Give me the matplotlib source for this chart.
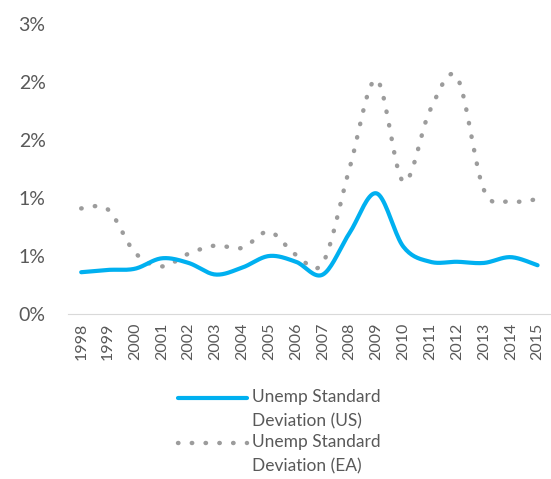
import math
import numpy as np
import matplotlib.pyplot as plt
from matplotlib.ticker import FuncFormatter
from matplotlib.legend_handler import HandlerLine2D

years = [str(y) for y in range(1998, 2016)]
us_sd = [0.36, 0.38, 0.39, 0.48, 0.44, 0.34, 0.40, 0.50, 0.45, 0.34,
         0.70, 1.04, 0.58, 0.45, 0.45, 0.44, 0.49, 0.42]
ea_sd = [0.91, 0.90, 0.53, 0.41, 0.52, 0.59, 0.57, 0.71, 0.51, 0.44,
         1.26, 2.02, 1.14, 1.76, 2.04, 1.07, 0.97, 0.99]


def smooth(xs, ys, n=20):
    # Excel-style smoothed line (Catmull-Rom through Bezier segments)
    xs = np.asarray(xs, float)
    ys = np.asarray(ys, float)
    px = np.concatenate([[xs[0]], xs, [xs[-1]]])
    py = np.concatenate([[ys[0]], ys, [ys[-1]]])
    outx, outy = [], []
    t = np.linspace(0, 1, n)
    for i in range(1, len(px) - 2):
        p0 = np.array([px[i - 1], py[i - 1]])
        p1 = np.array([px[i], py[i]])
        p2 = np.array([px[i + 1], py[i + 1]])
        p3 = np.array([px[i + 2], py[i + 2]])
        b1 = p1 + (p2 - p0) / 6
        b2 = p2 - (p3 - p1) / 6
        pts = ((1 - t) ** 3)[:, None] * p1 + (3 * (1 - t) ** 2 * t)[:, None] * b1 \
            + (3 * (1 - t) * t ** 2)[:, None] * b2 + (t ** 3)[:, None] * p2
        outx.extend(pts[:, 0])
        outy.extend(pts[:, 1])
    return np.array(outx), np.array(outy)


class TopLineHandler(HandlerLine2D):
    # put the legend line next to the first line of a two-line label
    def create_artists(self, legend, orig_handle, xdescent, ydescent,
                       width, height, fontsize, trans):
        return super().create_artists(legend, orig_handle, xdescent,
                                      ydescent - 1.35 * fontsize, width, height,
                                      fontsize, trans)


plt.rcParams['font.family'] = ['Lato', 'DejaVu Sans']
grey = '#595959'

fig = plt.figure(figsize=(5.51, 4.79), dpi=100)
ax = fig.add_axes([0.123, 0.3445, 0.877, 0.6055])

x = np.arange(len(years))
sx, sy = smooth(x, np.array(us_sd) / 100)
l1, = ax.plot(sx, sy, color='#00B0F0', lw=3, solid_capstyle='round',
              label='Unemp Standard\nDeviation (US)', zorder=3)
sx, sy = smooth(x, np.array(ea_sd) / 100)
l2, = ax.plot(sx, sy, color='#9C9C9C', lw=3.2, linestyle=(0, (0.1, 3.0)),
              dash_capstyle='round', label='Unemp Standard\nDeviation (EA)', zorder=2)

ax.set_xlim(-0.5, len(years) - 0.5)
ax.set_ylim(0, 0.025)
ax.set_yticks(np.arange(0, 0.0251, 0.005))
# Excel rounds half up: 0.5% -> 1%, 2.5% -> 3%
ax.yaxis.set_major_formatter(FuncFormatter(lambda v, p: f"{math.floor(v * 100 + 0.5 + 1e-9):d}%"))
ax.set_xticks(x)
ax.set_xticklabels(years, rotation=90)

for s in ['top', 'right', 'left']:
    ax.spines[s].set_visible(False)
ax.spines['bottom'].set_color('#D9D9D9')
ax.tick_params(axis='y', length=0, labelsize=14, labelcolor=grey, pad=16)
ax.tick_params(axis='x', length=0, labelsize=11.5, labelcolor=grey, pad=6)

leg = fig.legend(loc='upper left', bbox_to_anchor=(0.31, 0.202), frameon=False,
                 fontsize=12.5, handlelength=4.0, handletextpad=0.25,
                 labelspacing=0.3, borderaxespad=0,
                 handler_map={l1: TopLineHandler(), l2: TopLineHandler()})
for t in leg.get_texts():
    t.set_color(grey)
    t.set_linespacing(1.6)

fig.savefig('out.png', dpi=100)
